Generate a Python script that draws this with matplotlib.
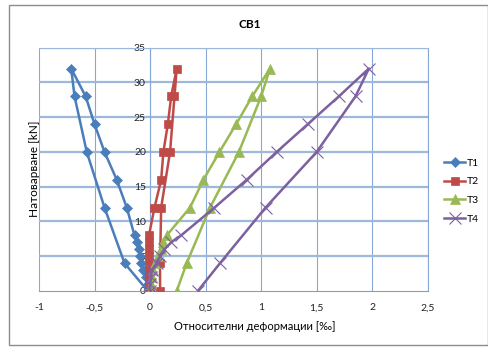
import matplotlib.pyplot as plt
from matplotlib.patches import Rectangle
from matplotlib.ticker import FuncFormatter

plt.rcParams['font.family'] = ['Lato', 'DejaVu Sans']

# натоварване: 0..8 kN стъпки по 1, после до 32 и разтоварване
load = [0, 1, 2, 3, 4, 5, 6, 7, 8, 12, 16, 20, 24, 28, 32, 28, 20, 12, 4, 0]

t1 = [0, -0.02, -0.04, -0.06, -0.08, -0.09, -0.10, -0.12, -0.14, -0.21, -0.30, -0.41,
      -0.50, -0.58, -0.71, -0.68, -0.57, -0.41, -0.23, -0.02]
t2 = [0, -0.01, -0.01, -0.01, -0.01, -0.01, -0.01, -0.01, -0.01, 0.04, 0.10, 0.12,
      0.16, 0.19, 0.24, 0.22, 0.18, 0.10, 0.09, 0.09]
t3 = [0, 0.01, 0.02, 0.03, 0.045, 0.07, 0.10, 0.12, 0.15, 0.36, 0.48, 0.625,
      0.775, 0.92, 1.08, 1.00, 0.80, 0.54, 0.33, 0.24]
t4 = [0, 0.00, 0.01, 0.015, 0.06, 0.09, 0.13, 0.19, 0.28, 0.58, 0.87, 1.14,
      1.42, 1.70, 1.97, 1.85, 1.50, 1.04, 0.63, 0.43]

series = [('T1', t1, '#4a7ebb', 'D', 5), ('T2', t2, '#be4b48', 's', 6),
          ('T3', t3, '#98b954', '^', 6.5), ('T4', t4, '#7d60a0', 'x', 8)]

fig = plt.figure(figsize=(4.89, 3.48), dpi=100)
fig.patches.append(Rectangle((9 / 489, 3 / 348), 479 / 489, 340 / 348, transform=fig.transFigure,
                             fill=False, edgecolor='#8c8c8c', lw=1))
ax = fig.add_axes([39 / 489, 1 - 291 / 348, (427.7 - 39) / 489, (291 - 47.7) / 348])

grid_c = '#9db8da'
for xv in [-1, -0.5, 0, 0.5, 1, 1.5, 2, 2.5]:
    ax.axvline(xv, color='#86a8d6', lw=0.8, zorder=0)
for yv in [5, 10, 15, 20, 25, 30, 35]:
    ax.axhline(yv, color=grid_c, lw=1.6, zorder=0)

for name, xs, c, m, ms in series:
    ax.plot(xs, load, color=c, lw=1.8, marker=m, markersize=ms, markeredgewidth=0.8 if m == 'x' else 0.5,
            markeredgecolor=c, label=name, zorder=3)

ax.set_xlim(-1, 2.5)
ax.set_ylim(0, 35)
ax.set_xticks([-1, -0.5, 0, 0.5, 1, 1.5, 2, 2.5])
ax.set_yticks(range(0, 36, 5))
fmt = FuncFormatter(lambda v, p: ('%g' % v).replace('.', ','))
ax.xaxis.set_major_formatter(fmt)
ax.spines['left'].set_position(('data', 0))
ax.spines['left'].set_color('#86a8d6')
ax.spines['left'].set_linewidth(0.8)
ax.spines['top'].set_color(grid_c)
ax.spines['right'].set_color('#86a8d6')
ax.spines['bottom'].set_color('#9a9a9a')
ax.tick_params(length=0, labelsize=7.5, colors='#222222')
ax.tick_params(axis='x', pad=9)
ax.tick_params(axis='y', pad=3)

fig.text(250 / 489, 1 - 25 / 348, 'CB1', ha='center', va='center', fontsize=8.5, fontweight='bold')
fig.text(35 / 489, 1 - 169 / 348, 'Натоварване [kN]', rotation=90, ha='center', va='center', fontsize=8.5)
fig.text(255 / 489, 1 - 326 / 348, 'Относителни деформации [‰]', ha='center', va='center', fontsize=8)

fig.legend(loc='center left', bbox_to_anchor=(440 / 489, 1 - 191 / 348), frameon=False,
           fontsize=7.5, handlelength=2.0, handletextpad=0.2, labelspacing=0.9, borderaxespad=0)

fig.savefig('out.png', dpi=100)
